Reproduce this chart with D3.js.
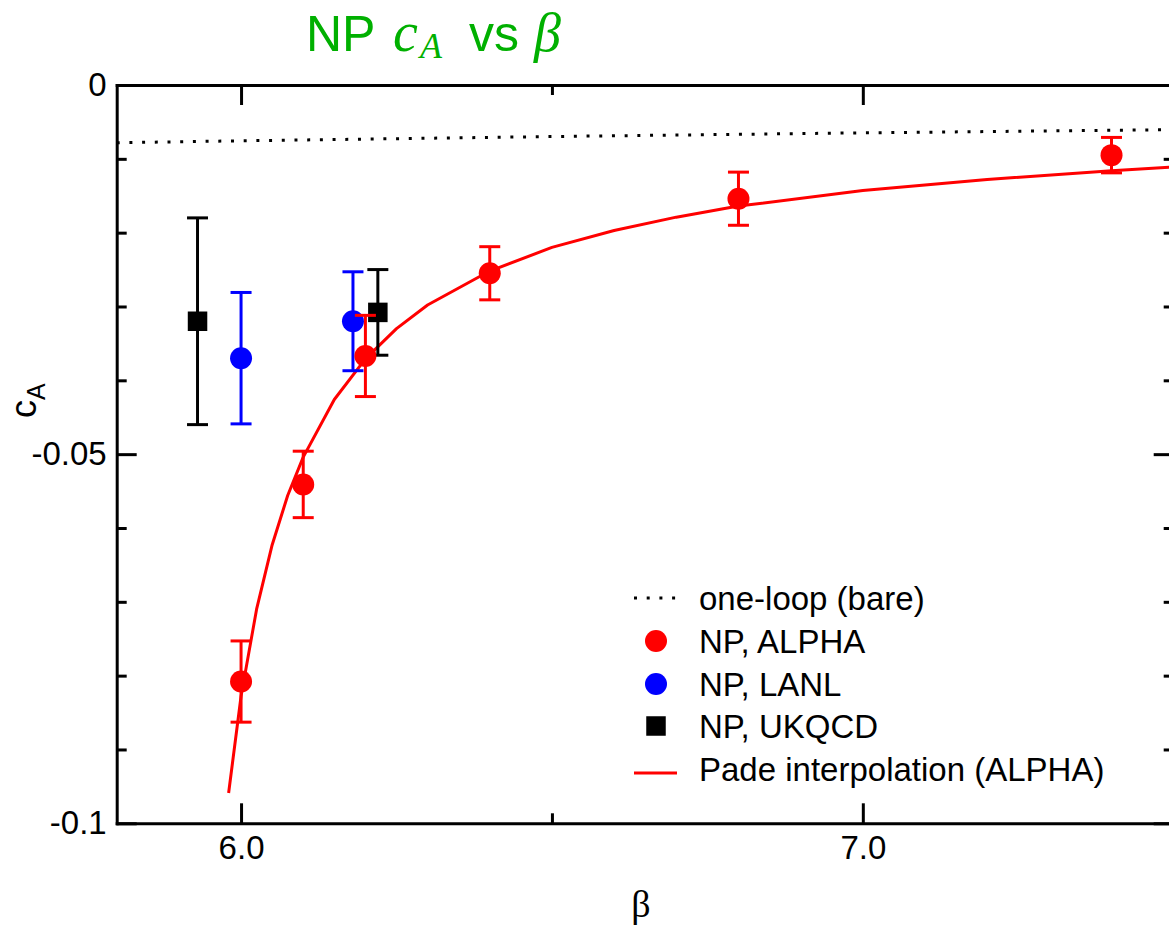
<!DOCTYPE html>
<html>
<head>
<meta charset="utf-8">
<script src="https://cdn.jsdelivr.net/npm/d3@7"></script>
<style>
  body { margin: 0; background: #fff; }
  svg { display: block; }
</style>
</head>
<body>
<svg id="chart" width="1169" height="927"></svg>
<script>
// Non-perturbative c_A from ALPHA, LANL and UKQCD
const alphaBeta = [6.0, 6.1, 6.2, 6.4, 6.8, 7.4];
const alphaCA   = [-0.0808, -0.0541, -0.0367, -0.0255, -0.0154, -0.0095];
const alphaErr  = [0.0055, 0.0045, 0.0055, 0.0036, 0.0036, 0.0024];

const lanlBeta = [6.0, 6.18];
const lanlCA   = [-0.0370, -0.0320];
const lanlErr  = [0.0089, 0.0067];

const ukqcdBeta = [5.93, 6.22];
const ukqcdCA   = [-0.0320, -0.0308];
const ukqcdErr  = [0.0140, 0.0058];

// Pade interpolation curve (ALPHA)
const padeBeta = [5.98, 6.0, 6.025, 6.05, 6.075, 6.1, 6.15, 6.2, 6.25, 6.3, 6.4, 6.5, 6.6, 6.7, 6.8, 7.0, 7.2, 7.4, 7.5];
const padeCA   = [-0.0959, -0.0828, -0.0710, -0.0623, -0.0556, -0.0504, -0.0426, -0.0371, -0.0330, -0.0298,
                  -0.0252, -0.0220, -0.0197, -0.0179, -0.0164, -0.0143, -0.0128, -0.0116, -0.0111];

// Bare one-loop estimate
const oneLoopBeta = [5.8, 6.0, 6.5, 7.0, 7.5];
const oneLoopCA   = [-0.00782, -0.00756, -0.00698, -0.00648, -0.00605];

// Axis ticks
const xMajorTicks = [6.0, 7.0];
const xMinorTicks = [6.5, 7.5];
const yMajorTicks = [0, -0.05, -0.1];
const yMinorTicks = [-0.01, -0.02, -0.03, -0.04, -0.06, -0.07, -0.08, -0.09];

const legendLabels = ["one-loop (bare)", "NP, ALPHA", "NP, LANL", "NP, UKQCD", "Pade interpolation (ALPHA)"];

const RED = "#ff0000", BLUE = "#0000ff", BLACK = "#000000", GREEN = "#00b000";
const SANS = "'Liberation Sans', Arial, sans-serif";
const SERIF = "'Liberation Serif', 'Times New Roman', serif";

const svg = d3.select("#chart");
const plot = { left: 116.7, right: 1173.7, top: 85, bottom: 823.3 };

const x = d3.scaleLinear().domain([5.8, 7.5]).range([plot.left, plot.right]);
const y = d3.scaleLinear().domain([-0.1, 0]).range([plot.bottom, plot.top]);

// ---- axes ----
function styleAxis(g) {
  g.selectAll("path.domain").attr("stroke", "#000").attr("stroke-width", 3).attr("stroke-linecap", "square");
  g.selectAll(".tick line").attr("stroke", "#000").attr("stroke-width", 3);
  g.selectAll(".tick text").attr("fill", "#000").style("font-family", SANS).style("font-size", "33px");
}

const gx = svg.append("g").attr("transform", `translate(0,${plot.bottom})`)
  .call(d3.axisBottom(x).tickValues(xMajorTicks).tickSizeInner(-20).tickSizeOuter(0)
        .tickPadding(12).tickFormat(d3.format(".1f")));
styleAxis(gx);
const gxm = svg.append("g").attr("transform", `translate(0,${plot.bottom})`)
  .call(d3.axisBottom(x).tickValues(xMinorTicks).tickSizeInner(-10).tickSizeOuter(0).tickFormat(""));
styleAxis(gxm); gxm.select("path.domain").remove();

const gxt = svg.append("g").attr("transform", `translate(0,${plot.top})`)
  .call(d3.axisTop(x).tickValues(xMajorTicks).tickSizeInner(-20).tickSizeOuter(0).tickFormat(""));
styleAxis(gxt);
const gxtm = svg.append("g").attr("transform", `translate(0,${plot.top})`)
  .call(d3.axisTop(x).tickValues(xMinorTicks).tickSizeInner(-10).tickSizeOuter(0).tickFormat(""));
styleAxis(gxtm); gxtm.select("path.domain").remove();

const yFmt = d => d === 0 ? "0" : String(d);
const gy = svg.append("g").attr("transform", `translate(${plot.left},0)`)
  .call(d3.axisLeft(y).tickValues(yMajorTicks).tickSizeInner(-20).tickSizeOuter(0)
        .tickPadding(10).tickFormat(yFmt));
styleAxis(gy);
const gym = svg.append("g").attr("transform", `translate(${plot.left},0)`)
  .call(d3.axisLeft(y).tickValues(yMinorTicks).tickSizeInner(-10).tickSizeOuter(0).tickFormat(""));
styleAxis(gym); gym.select("path.domain").remove();

const gyr = svg.append("g").attr("transform", `translate(${plot.right},0)`)
  .call(d3.axisRight(y).tickValues(yMajorTicks).tickSizeInner(-20).tickSizeOuter(0).tickFormat(""));
styleAxis(gyr);
const gyrm = svg.append("g").attr("transform", `translate(${plot.right},0)`)
  .call(d3.axisRight(y).tickValues(yMinorTicks).tickSizeInner(-10).tickSizeOuter(0).tickFormat(""));
styleAxis(gyrm); gyrm.select("path.domain").remove();

// ---- curves ----
const line = d3.line().x(d => x(d[0])).y(d => y(d[1]));

svg.append("path")
  .datum(oneLoopBeta.map((b, i) => [b, oneLoopCA[i]]))
  .attr("fill", "none").attr("stroke", BLACK).attr("stroke-width", 3)
  .attr("stroke-dasharray", "3 9.7")
  .attr("d", line);

svg.append("path")
  .datum(padeBeta.map((b, i) => [b, padeCA[i]]))
  .attr("fill", "none").attr("stroke", RED).attr("stroke-width", 3)
  .attr("stroke-linejoin", "round")
  .attr("d", line);

// ---- data with error bars ----
function errorBars(betas, vals, errs, color) {
  const g = svg.append("g").attr("stroke", color).attr("stroke-width", 3).attr("fill", "none");
  const capW = 10.5;
  betas.forEach((b, i) => {
    const cx = x(b), y1 = y(vals[i] + errs[i]), y2 = y(vals[i] - errs[i]);
    g.append("line").attr("x1", cx).attr("x2", cx).attr("y1", y1).attr("y2", y2);
    g.append("line").attr("x1", cx - capW).attr("x2", cx + capW).attr("y1", y1).attr("y2", y1);
    g.append("line").attr("x1", cx - capW).attr("x2", cx + capW).attr("y1", y2).attr("y2", y2);
  });
}

function circles(betas, vals, color) {
  svg.append("g").selectAll("circle").data(betas).join("circle")
    .attr("cx", d => x(d)).attr("cy", (d, i) => y(vals[i])).attr("r", 11)
    .attr("fill", color);
}

function squares(betas, vals, color) {
  const s = 19.5;
  svg.append("g").selectAll("rect").data(betas).join("rect")
    .attr("x", d => x(d) - s / 2).attr("y", (d, i) => y(vals[i]) - s / 2)
    .attr("width", s).attr("height", s).attr("fill", color);
}

errorBars(ukqcdBeta, ukqcdCA, ukqcdErr, BLACK);
squares(ukqcdBeta, ukqcdCA, BLACK);
errorBars(lanlBeta, lanlCA, lanlErr, BLUE);
circles(lanlBeta, lanlCA, BLUE);
errorBars(alphaBeta, alphaCA, alphaErr, RED);
circles(alphaBeta, alphaCA, RED);

// ---- legend ----
const legend = svg.append("g").attr("transform", "translate(633,0)");
const rowY = [598, 641, 684, 726, 769];
legendLabels.forEach((label, i) => {
  legend.append("text").attr("x", 66).attr("y", rowY[i] + 12)
    .style("font-family", SANS).style("font-size", "33px").attr("fill", "#000")
    .text(label);
});
legend.append("line").attr("x1", 1).attr("x2", 44).attr("y1", rowY[0]).attr("y2", rowY[0])
  .attr("stroke", BLACK).attr("stroke-width", 3).attr("stroke-dasharray", "3 9.7");
legend.append("circle").attr("cx", 23).attr("cy", rowY[1]).attr("r", 11).attr("fill", RED);
legend.append("circle").attr("cx", 23).attr("cy", rowY[2]).attr("r", 11).attr("fill", BLUE);
legend.append("rect").attr("x", 23 - 9.75).attr("y", rowY[3] - 9.75).attr("width", 19.5).attr("height", 19.5).attr("fill", BLACK);
legend.append("line").attr("x1", 1).attr("x2", 44).attr("y1", rowY[4] + 4).attr("y2", rowY[4] + 4)
  .attr("stroke", RED).attr("stroke-width", 3);

// ---- titles ----
const title = svg.append("text").attr("y", 51).attr("fill", GREEN)
  .style("font-family", SANS).style("font-size", "50px");
title.append("tspan").attr("x", 306).text("NP");
title.append("tspan").attr("x", 393).style("font-family", SERIF).style("font-style", "italic")
  .style("font-size", "56px").text("c");
title.append("tspan").attr("x", 420).attr("y", 58).style("font-family", SERIF).style("font-style", "italic")
  .style("font-size", "36px").text("A");
title.append("tspan").attr("x", 469).attr("y", 51).text("vs");
title.append("tspan").attr("x", 534).style("font-family", SERIF).style("font-style", "italic")
  .style("font-size", "54px").text("β");

const yLabel = svg.append("text")
  .attr("transform", "translate(36,418) rotate(-90)")
  .style("font-family", SANS).style("font-size", "36px").attr("fill", "#000");
yLabel.append("tspan").text("c");
yLabel.append("tspan").style("font-size", "25px").attr("dy", 9).text("A");

svg.append("text").attr("x", 641).attr("y", 917).attr("text-anchor", "middle")
  .style("font-family", SERIF).style("font-size", "38px").attr("fill", "#000")
  .text("β");
</script>
</body>
</html>
